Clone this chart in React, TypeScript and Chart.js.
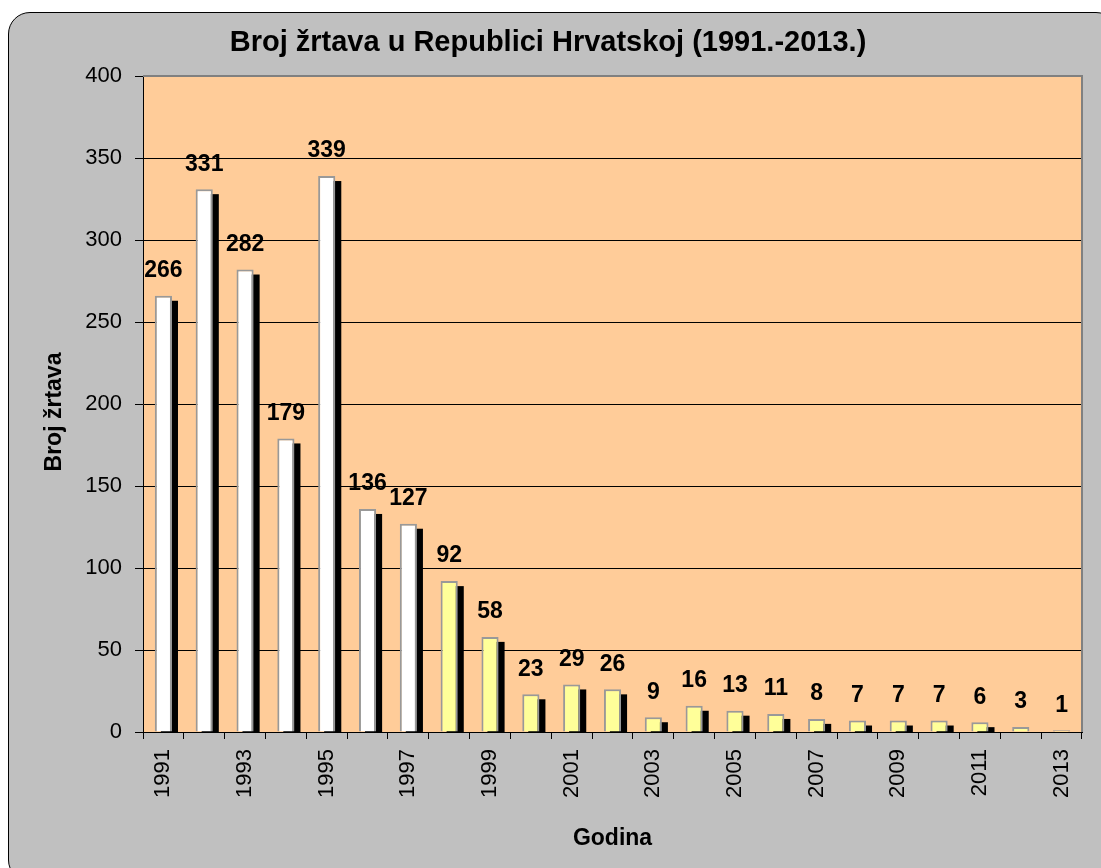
import React, { useEffect, useRef } from "react";
import { Chart, registerables } from "chart.js";

Chart.register(...registerables);

const TITLE = "Broj žrtava u Republici Hrvatskoj (1991.-2013.)";
const Y_TITLE = "Broj žrtava";
const X_TITLE = "Godina";

const years: string[] = [
  "1991", "1992", "1993", "1994", "1995", "1996", "1997", "1998", "1999", "2000",
  "2001", "2002", "2003", "2004", "2005", "2006", "2007", "2008", "2009", "2010",
  "2011", "2012", "2013",
];
const victims: number[] = [
  266, 331, 282, 179, 339, 136, 127, 92, 58, 23, 29, 26, 9, 16, 13, 11, 8, 7, 7, 7, 6, 3, 1,
];
const LAST_WHITE_YEAR = "1997";

const FONT = "'Liberation Sans', Arial, sans-serif";

const plotBg = {
  id: "plotBg",
  beforeDraw(chart: any) {
    const { ctx, chartArea: a } = chart;
    ctx.save();
    ctx.fillStyle = "#FFCC99";
    ctx.fillRect(a.left, a.top, a.right - a.left, a.bottom - a.top);
    ctx.restore();
  },
  afterDraw(chart: any) {
    const { ctx, chartArea: a } = chart;
    ctx.save();
    ctx.strokeStyle = "#808080";
    ctx.lineWidth = 2;
    ctx.beginPath();
    ctx.moveTo(a.left, a.top);
    ctx.lineTo(a.right, a.top);
    ctx.lineTo(a.right, a.bottom);
    ctx.stroke();
    // y-axis title
    ctx.translate(55, (a.top + a.bottom) / 2 + 8);
    ctx.rotate(-Math.PI / 2);
    ctx.font = `bold 23px ${FONT}`;
    ctx.fillStyle = "#000000";
    ctx.textAlign = "center";
    ctx.textBaseline = "middle";
    ctx.fillText(Y_TITLE, 0, 0);
    ctx.restore();
  },
};

const barShadow = {
  id: "barShadow",
  beforeDatasetsDraw(chart: any) {
    const { ctx, chartArea: a } = chart;
    const meta = chart.getDatasetMeta(0);
    ctx.save();
    ctx.beginPath();
    ctx.rect(a.left, a.top, a.right - a.left, a.bottom - a.top);
    ctx.clip();
    ctx.fillStyle = "#000000";
    meta.data.forEach((el: any) => {
      const { x, y, base, width } = el.getProps(["x", "y", "base", "width"], true);
      ctx.fillRect(x - width / 2 + 6, y + 5, width, base - y);
    });
    ctx.restore();
  },
};

const valueLabels = {
  id: "valueLabels",
  afterDatasetsDraw(chart: any) {
    const { ctx } = chart;
    const meta = chart.getDatasetMeta(0);
    const data = chart.data.datasets[0].data;
    ctx.save();
    ctx.font = `bold 23px ${FONT}`;
    ctx.fillStyle = "#000000";
    ctx.textAlign = "center";
    ctx.textBaseline = "middle";
    meta.data.forEach((el: any, i: number) => {
      const { x, y } = el.getProps(["x", "y"], true);
      ctx.fillText(String(data[i]), x, y - 25);
    });
    ctx.restore();
  },
};

export default function App() {
  const ref = useRef<HTMLCanvasElement | null>(null);

  useEffect(() => {
    if (!ref.current) return;
    const lastWhite = years.indexOf(LAST_WHITE_YEAR);
    const chart = new Chart(ref.current, {
      type: "bar",
      data: {
        labels: years,
        datasets: [
          {
            data: victims,
            backgroundColor: (c: any) => (c.dataIndex <= lastWhite ? "#FFFFFF" : "#FFFF99"),
            borderColor: "#999999",
            borderWidth: 2,
            barPercentage: 0.42,
            categoryPercentage: 1,
          },
        ],
      },
      options: {
        responsive: false,
        animation: false,
        layout: { padding: { left: 14, right: 19, top: 0, bottom: 0 } },
        plugins: {
          legend: { display: false },
          tooltip: { enabled: false },
          title: {
            display: true,
            text: TITLE,
            color: "#000000",
            font: { family: FONT, size: 29, weight: "bold" },
            padding: { top: 25.6, bottom: 15.6 },
          },
        },
        scales: {
          x: {
            afterFit: (s: any) => {
              s.height = 136;
            },
            grid: {
              drawOnChartArea: false,
              color: "#000000",
              tickLength: 7,
              offset: true,
            },
            border: { color: "#000000", width: 1 },
            ticks: {
              autoSkip: false,
              maxRotation: 90,
              minRotation: 90,
              padding: 10,
              color: "#000000",
              font: { family: FONT, size: 22 },
              callback: (_v: any, i: number) => (i % 2 === 0 ? years[i] : ""),
            },
            title: {
              display: true,
              text: X_TITLE,
              color: "#000000",
              font: { family: FONT, size: 23, weight: "bold" },
              padding: { top: 16, bottom: 16 },
            },
          },
          y: {
            min: 0,
            max: 400,
            afterFit: (s: any) => {
              s.width = 129;
            },
            grid: {
              color: (c: any) => (c.tick && c.tick.value === 400 ? "rgba(0,0,0,0)" : "#000000"),
              tickColor: "#000000",
              tickLength: 8,
              lineWidth: 1,
            },
            border: { color: "#000000", width: 1 },
            ticks: {
              stepSize: 50,
              padding: 13,
              color: "#000000",
              font: { family: FONT, size: 22 },
            },
            title: { display: false },
          },
        },
      },
      plugins: [plotBg, barShadow, valueLabels],
    });
    return () => chart.destroy();
  }, []);

  return (
    <div
      style={{
        position: "fixed",
        left: 0,
        top: 0,
        width: 1101,
        height: 868,
        overflow: "hidden",
        background: "#FFFFFF",
      }}
    >
      <div
        style={{
          position: "absolute",
          left: 8,
          top: 12,
          width: 1110,
          height: 870,
          boxSizing: "border-box",
          border: "1px solid #000000",
          borderRadius: 22,
          background: "#C0C0C0",
        }}
      />
      <canvas
        ref={ref}
        width={1101}
        height={868}
        style={{ position: "absolute", left: 0, top: 0, width: 1101, height: 868 }}
      />
    </div>
  );
}
